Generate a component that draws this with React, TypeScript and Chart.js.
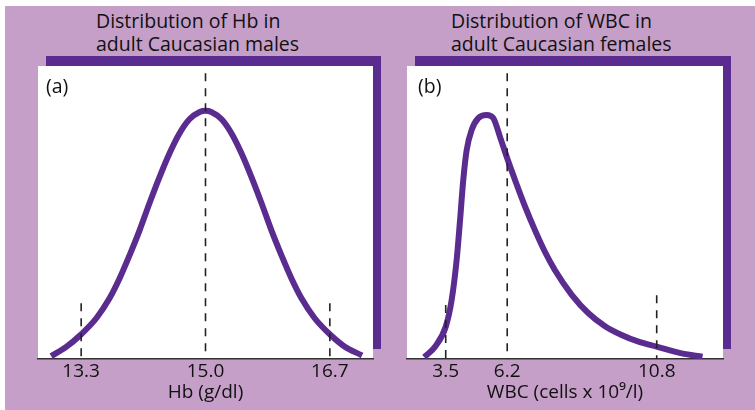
import React, { useEffect, useRef } from 'react';
import { Chart, registerables, LinearScale } from 'chart.js';

Chart.register(...registerables);

// ---------- data ----------
const hbTitle = ['Distribution of Hb in', 'adult Caucasian males'];
const hbAxisTitle = 'Hb (g/dl)';
const hbTicks = [13.3, 15.0, 16.7];
const hbMarkerHeights = [19.0, 97.5, 19.0];
const hbCurveX = [12.89, 13.10, 13.29, 13.51, 13.69, 13.82, 13.96, 14.10, 14.23, 14.37, 14.51, 14.64, 14.78, 14.92, 15.00, 15.08, 15.22, 15.36, 15.49, 15.63, 15.77, 15.90, 16.04, 16.18, 16.31, 16.49, 16.71, 16.90, 17.14];
const hbCurveY = [1.0, 4.2, 8.2, 14.0, 20.8, 27.2, 35.3, 44.0, 52.9, 62.0, 70.3, 76.8, 81.8, 84.3, 84.7, 84.3, 81.8, 76.8, 70.3, 62.0, 52.9, 44.0, 35.3, 27.2, 20.8, 14.0, 8.2, 4.3, 1.2];

const wbcTitle = ['Distribution of WBC in', 'adult Caucasian females'];
const wbcAxisTitle = 'WBC (cells x 10\u2079/l)';
const wbcTicks = [3.5, 6.2, 10.8];
const wbcMarkerHeights = [18.4, 97.5, 21.8];
const wbcCurveX = [2.56, 3.03, 3.50, 3.76, 3.98, 4.13, 4.27, 4.42, 4.64, 4.93, 5.30, 5.59, 5.88, 6.20, 6.44, 6.75, 7.06, 7.36, 7.67, 8.18, 8.70, 9.21, 9.72, 10.24, 10.80, 11.57, 12.21];
const wbcCurveY = [0.6, 4.2, 11.0, 20.1, 33.8, 47.4, 61.1, 71.3, 78.2, 82.2, 83.3, 82.2, 75.9, 68.5, 61.1, 52.0, 43.8, 36.6, 30.3, 22.0, 15.6, 11.2, 8.2, 5.9, 4.2, 1.9, 0.8];

// ---------- style ----------
const LILAC = '#c59fc8';
const PURPLE = '#5b2c8f';
const INK = '#111111';
const FONT = "'Open Sans', 'Noto Sans', sans-serif";

Chart.defaults.font.family = FONT;

// A linear axis whose upper part (beyond stretchFrom) is drawn stretched,
// as the schematic WBC axis in the original is not to scale.
class StretchedScale extends LinearScale {
  static id = 'stretched';
  static defaults = { ...(LinearScale as any).defaults };
  warp(v: number) {
    const o: any = this.options;
    const b = o.stretchFrom ?? Infinity;
    const k = o.stretchFactor ?? 1;
    return v <= b ? v : b + (v - b) * k;
  }
  unwarp(u: number) {
    const o: any = this.options;
    const b = o.stretchFrom ?? Infinity;
    const k = o.stretchFactor ?? 1;
    return u <= b ? u : b + (u - b) / k;
  }
  getPixelForValue(value: any) {
    if (value === null || value === undefined || isNaN(value)) return NaN;
    const lo = this.warp(this.min);
    const hi = this.warp(this.max);
    return this.getPixelForDecimal((this.warp(value) - lo) / (hi - lo));
  }
  getValueForPixel(pixel: number) {
    const lo = this.warp(this.min);
    const hi = this.warp(this.max);
    return this.unwarp(lo + this.getDecimalForPixel(pixel) * (hi - lo));
  }
}
Chart.register(StretchedScale as any);

const panelBackdrop = {
  id: 'panelBackdrop',
  beforeDraw(chart: any, _args: any, opts: any) {
    const { ctx, chartArea: a } = chart;
    ctx.save();
    ctx.fillStyle = opts.shadowColor;
    ctx.fillRect(a.left + opts.dx, a.top - opts.dy, a.right - a.left, a.bottom - a.top);
    ctx.fillStyle = '#ffffff';
    ctx.fillRect(a.left, a.top, a.right - a.left, a.bottom - a.top);
    ctx.restore();
  },
};

function buildConfig(
  curveX: number[],
  curveY: number[],
  ticks: number[],
  markerHeights: number[],
  axisTitle: string,
  xScale: any
): any {
  const markers = ticks.map((t, i) => ({
    data: [
      { x: t, y: markerHeights[i] },
      { x: t, y: 0 },
    ],
    borderColor: '#222222',
    borderWidth: 1.6,
    borderDash: [8, 7],
    pointRadius: 0,
    fill: false,
    tension: 0,
  }));
  const curve = {
    data: curveX.map((x, i) => ({ x, y: curveY[i] })),
    borderColor: PURPLE,
    borderWidth: 6,
    borderCapStyle: 'butt',
    pointRadius: 0,
    fill: false,
    cubicInterpolationMode: 'monotone',
  };
  return {
    type: 'line',
    data: { datasets: [...markers, curve] },
    plugins: [panelBackdrop],
    options: {
      animation: false,
      responsive: false,
      events: [],
      layout: { padding: { left: 8, right: 12, top: 16, bottom: 0 } },
      plugins: {
        legend: { display: false },
        tooltip: { enabled: false },
        title: { display: false },
        panelBackdrop: { shadowColor: PURPLE, dx: 8, dy: 10 },
      },
      scales: {
        x: {
          ...xScale,
          bounds: 'data',
          afterBuildTicks: (scale: any) => {
            scale.ticks = ticks.map((v) => ({ value: v }));
          },
          afterFit: (scale: any) => {
            scale.height = 49;
          },
          grid: { display: false, drawTicks: false },
          border: { display: true, color: '#333333', width: 1.5 },
          ticks: {
            autoSkip: false,
            maxRotation: 0,
            padding: 1,
            color: INK,
            font: { size: 19, family: FONT },
            callback: (v: any) => Number(v).toFixed(1),
          },
          title: {
            display: true,
            text: axisTitle,
            color: INK,
            font: { size: 19, family: FONT },
            padding: { top: 0, bottom: 4 },
          },
        },
        y: { display: false, min: 0, max: 100 },
      },
    },
  };
}

function ChartCanvas({ config, left, width }: { config: () => any; left: number; width: number }) {
  const ref = useRef<HTMLCanvasElement | null>(null);
  useEffect(() => {
    const chart = new Chart(ref.current as HTMLCanvasElement, config());
    return () => chart.destroy();
  }, []);
  return (
    <canvas
      ref={ref}
      width={width}
      height={358}
      style={{ position: 'absolute', left, top: 50, width, height: 358 }}
    />
  );
}

const titleStyle: React.CSSProperties = {
  position: 'absolute',
  top: 9,
  fontFamily: FONT,
  fontSize: 19.5,
  lineHeight: '23.4px',
  color: INK,
  whiteSpace: 'nowrap',
  textAlign: 'left',
};

const letterStyle: React.CSSProperties = {
  position: 'absolute',
  top: 74,
  fontFamily: FONT,
  fontSize: 19.5,
  lineHeight: '23.4px',
  color: INK,
};

export default function App() {
  const hbConfig = () =>
    buildConfig(hbCurveX, hbCurveY, hbTicks, hbMarkerHeights, hbAxisTitle, {
      type: 'linear',
      min: 12.71,
      max: 17.29,
    });
  const wbcConfig = () =>
    buildConfig(wbcCurveX, wbcCurveY, wbcTicks, wbcMarkerHeights, wbcAxisTitle, {
      type: 'stretched',
      min: 1.8,
      max: 12.84,
      stretchFrom: 6.2,
      stretchFactor: 1.427,
    });
  return (
    <div style={{ position: 'fixed', left: 0, top: 0, width: 755, height: 410, background: '#ffffff', overflow: 'hidden' }}>
      <div style={{ position: 'absolute', left: 5, top: 6, right: 0, bottom: 0, background: LILAC }} />
      <div style={{ ...titleStyle, left: 96 }}>
        {hbTitle[0]}
        <br />
        {hbTitle[1]}
      </div>
      <div style={{ ...titleStyle, left: 451 }}>
        {wbcTitle[0]}
        <br />
        {wbcTitle[1]}
      </div>
      <ChartCanvas config={hbConfig} left={30} width={355} />
      <ChartCanvas config={wbcConfig} left={399} width={336} />
      <div style={{ ...letterStyle, left: 46 }}>(a)</div>
      <div style={{ ...letterStyle, left: 418 }}>(b)</div>
    </div>
  );
}
